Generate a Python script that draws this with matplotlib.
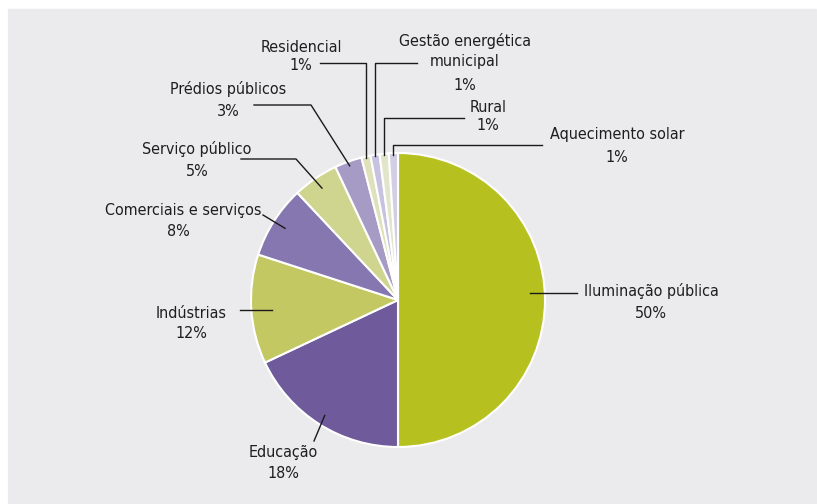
import numpy as np
import matplotlib.pyplot as plt
from matplotlib.patches import Rectangle

# data, clockwise from top
labels = ["Iluminação pública", "Educação", "Indústrias", "Comerciais e serviços",
          "Serviço público", "Prédios públicos", "Residencial",
          "Gestão energética\nmunicipal", "Rural", "Aquecimento solar"]
shares = [50, 18, 12, 8, 5, 3, 1, 1, 1, 1]
colors = ["#b6c120", "#6f5a9c", "#c3c862", "#8677b0", "#cfd48f",
          "#a69bc5", "#dfe1bb", "#c7c2e0", "#e3e5cb", "#d2cee3"]

W, H = 817, 504
CX, CY, R = 398, 300, 147

# label layout in pixels: name centre, percent centre, leader points, anchor radius
# rr=None -> leader is a plain horizontal tick ending at the last point
layout = {
    "Iluminação pública": dict(name=(651, 291), pct=(651, 314), pts=[(577, 293), (530, 293)], rr=None),
    "Educação": dict(name=(283, 453), pct=(283, 473), pts=[(314, 441)], rr=0.93),
    "Indústrias": dict(name=(191, 313), pct=(191, 334), pts=[(240, 310), (272, 310)], rr=None),
    "Comerciais e serviços": dict(name=(183, 210), pct=(178, 231), pts=[(263, 215)], rr=0.91),
    "Serviço público": dict(name=(197, 149), pct=(197, 172), pts=[(241, 159), (296, 159)], rr=0.92),
    "Prédios públicos": dict(name=(228, 89), pct=(228, 112), pts=[(254, 105), (311, 105)], rr=0.97),
    "Residencial": dict(name=(301, 48), pct=(301, 65), pts=[(320, 63), ("v", 63)], rr=0.99),
    "Gestão energética\nmunicipal": dict(name=(465, 51), pct=(465, 85), pts=[(417, 63), ("v", 63)], rr=0.99),
    "Rural": dict(name=(488, 107), pct=(488, 126), pts=[(464, 118), ("v", 118)], rr=0.99),
    "Aquecimento solar": dict(name=(617, 134), pct=(617, 158), pts=[(542, 145), ("v", 145)], rr=0.99),
}

fig = plt.figure(figsize=(W / 100, H / 100), dpi=100)
fig.patch.set_facecolor("white")

bg = fig.add_axes([0, 0, 1, 1])
bg.set_xlim(0, W)
bg.set_ylim(H, 0)
bg.axis("off")
bg.add_patch(Rectangle((8, 9), W - 9, H - 9, color="#ebebed", zorder=0))

# pie axes placed so that the pie sits at (CX, CY) with radius R
pie_ax = fig.add_axes([(CX - R) / W, (H - CY - R) / H, 2 * R / W, 2 * R / H])
wedges, _ = pie_ax.pie(shares, colors=colors, startangle=90, counterclock=False,
                       radius=1, wedgeprops=dict(edgecolor="white", linewidth=1.5))
pie_ax.set_xlim(-1, 1)
pie_ax.set_ylim(-1, 1)
pie_ax.set_aspect("auto")
pie_ax.axis("off")

# overlay for leader lines and labels
top = fig.add_axes([0, 0, 1, 1])
top.set_xlim(0, W)
top.set_ylim(H, 0)
top.axis("off")
top.patch.set_alpha(0)

font = dict(family="DejaVu Sans", fontstretch="condensed", fontsize=11.5, color="#1e1e1e")

for w, lab, val in zip(wedges, labels, shares):
    lay = layout[lab]
    mid = np.deg2rad((w.theta1 + w.theta2) / 2)
    rr = lay["rr"] if lay["rr"] is not None else 0.9
    ax_x = CX + rr * R * np.cos(mid)
    ax_y = CY - rr * R * np.sin(mid)
    pts = []
    for p in lay["pts"]:
        if p[0] == "v":
            pts.append((ax_x, p[1]))
        else:
            pts.append(p)
    if lay["rr"] is not None:
        pts.append((ax_x, ax_y))
    xs, ys = zip(*pts)
    top.plot(xs, ys, color="#1a1a1a", lw=1.0)

    nx, ny = lay["name"]
    top.text(nx, ny, lab, ha="center", va="center", linespacing=1.45, **font)
    px, py = lay["pct"]
    top.text(px, py, f"{val}%", ha="center", va="center", **font)

fig.savefig("out.png", dpi=100, facecolor=fig.get_facecolor())
